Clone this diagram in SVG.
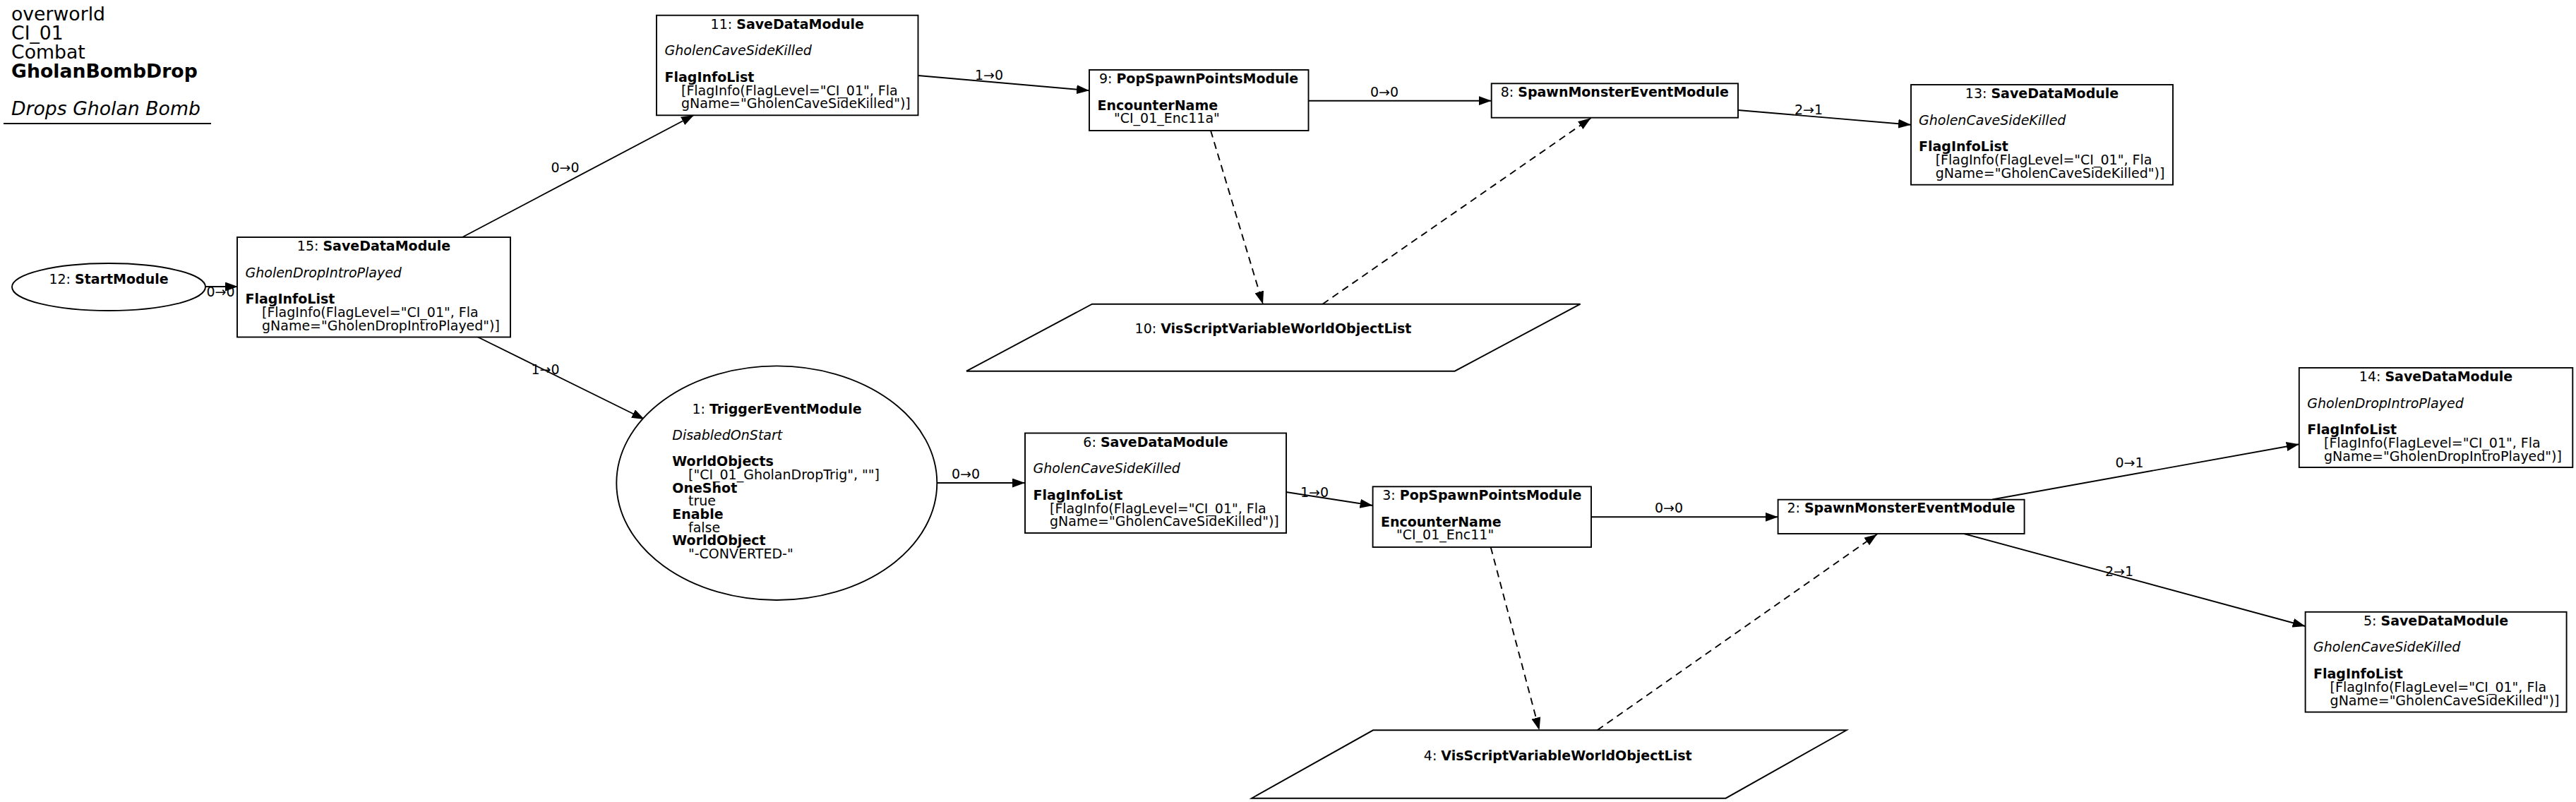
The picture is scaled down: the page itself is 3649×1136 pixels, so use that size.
<svg xmlns="http://www.w3.org/2000/svg" width="3649" height="1136" viewBox="0 0 3649 1136">
<style>
text{font-family:"DejaVu Sans","Liberation Sans",sans-serif;font-size:19px;fill:#000}
.t{font-size:26.7px}
.b{font-weight:bold}
.i{font-style:italic}
.m{text-anchor:middle}
.shape{fill:#fff;stroke:#000;stroke-width:1.9}
.e{fill:none;stroke:#000;stroke-width:1.9;marker-end:url(#arr)}
.d{stroke-dasharray:10,7}
</style>
<defs>
<marker id="arr" viewBox="0 0 18 13" refX="18" refY="6.5" markerWidth="18" markerHeight="13" orient="auto" markerUnits="userSpaceOnUse"><path d="M0,0 L18,6.5 L0,13 z" fill="#000"/></marker>
</defs>
<rect width="3649" height="1136" fill="#fff"/>
<g id="title">
<text class="t" x="16" y="28.5">overworld</text>
<text class="t" x="16" y="55.5">CI_01</text>
<text class="t" x="16" y="82.5">Combat</text>
<text class="t b" x="16" y="109.5">GholanBombDrop</text>
<text class="t i" x="16" y="163">Drops Gholan Bomb</text>
<line x1="5" y1="175" x2="299" y2="175" stroke="#000" stroke-width="1.9"/>
</g>
<g id="connectors">
<line class="e" x1="291" y1="406" x2="337" y2="406"/>
<text class="m" x="312.5" y="420">0→0</text>
<line class="e" x1="653" y1="337" x2="983" y2="163"/>
<text class="m" x="800.5" y="244">0→0</text>
<line class="e" x1="676" y1="477" x2="913" y2="594"/>
<text class="m" x="772.6" y="530">1→0</text>
<line class="e" x1="1300.5" y1="107" x2="1543" y2="128.3"/>
<text class="m" x="1401" y="113">1→0</text>
<line class="e" x1="1853.5" y1="142.7" x2="2112.7" y2="142.7"/>
<text class="m" x="1961" y="136.7">0→0</text>
<line class="e" x1="2462" y1="156" x2="2707" y2="176.7"/>
<text class="m" x="2562" y="161.7">2→1</text>
<line class="e d" x1="1715" y1="185" x2="1789" y2="430.7"/>
<line class="e d" x1="1873.5" y1="430.7" x2="2253.5" y2="167.3"/>
<line class="e" x1="1327" y1="684" x2="1452" y2="684"/>
<text class="m" x="1368" y="678">0→0</text>
<line class="e" x1="1822" y1="697" x2="1944.6" y2="716"/>
<text class="m" x="1862" y="704">1→0</text>
<line class="e" x1="2254" y1="732.3" x2="2518.6" y2="732.3"/>
<text class="m" x="2364" y="725.7">0→0</text>
<line class="e d" x1="2111.7" y1="775" x2="2180.5" y2="1034.3"/>
<line class="e d" x1="2262.6" y1="1034.3" x2="2659" y2="756.7"/>
<line class="e" x1="2822.3" y1="707.5" x2="3256.8" y2="629.3"/>
<text class="m" x="3016.5" y="662">0→1</text>
<line class="e" x1="2782" y1="756" x2="3265.6" y2="887"/>
<text class="m" x="3002" y="815.7">2→1</text>
</g>
<g id="node12">
<ellipse class="shape" cx="154" cy="406.5" rx="137" ry="33.5"/>
<text class="m" x="154" y="401.7">12: <tspan class="b">StartModule</tspan></text>
</g>
<g id="node15">
<rect class="shape" x="336" y="336" width="387" height="141.5"/>
<text class="m" x="529.5" y="355">15: <tspan class="b">SaveDataModule</tspan></text>
<text class="i" x="347.5" y="392.5">GholenDropIntroPlayed</text>
<text class="b" x="347.5" y="430">FlagInfoList</text>
<text x="371" y="449">[FlagInfo(FlagLevel="CI_01", Fla</text>
<text x="371" y="467.7">gName="GholenDropIntroPlayed")]</text>
</g>
<g id="node11">
<rect class="shape" x="930" y="21.7" width="370.5" height="141.6"/>
<text class="m" x="1115.3" y="40.7">11: <tspan class="b">SaveDataModule</tspan></text>
<text class="i" x="941.5" y="78.2">GholenCaveSideKilled</text>
<text class="b" x="941.5" y="115.7">FlagInfoList</text>
<text x="965" y="134.7">[FlagInfo(FlagLevel="CI_01", Fla</text>
<text x="965" y="153.4">gName="GholenCaveSideKilled")]</text>
</g>
<g id="node9">
<rect class="shape" x="1543" y="99" width="310.5" height="86"/>
<text class="m" x="1698" y="118">9: <tspan class="b">PopSpawnPointsModule</tspan></text>
<text class="b" x="1554.5" y="156">EncounterName</text>
<text x="1578" y="174">"CI_01_Enc11a"</text>
</g>
<g id="node8">
<rect class="shape" x="2112.7" y="118.3" width="349.3" height="48.4"/>
<text class="m" x="2287.3" y="136.5">8: <tspan class="b">SpawnMonsterEventModule</tspan></text>
</g>
<g id="node13">
<rect class="shape" x="2707" y="120" width="371" height="141.7"/>
<text class="m" x="2892.5" y="139">13: <tspan class="b">SaveDataModule</tspan></text>
<text class="i" x="2718" y="176.5">GholenCaveSideKilled</text>
<text class="b" x="2718" y="214">FlagInfoList</text>
<text x="2741.7" y="233">[FlagInfo(FlagLevel="CI_01", Fla</text>
<text x="2741.7" y="251.7">gName="GholenCaveSideKilled")]</text>
</g>
<g id="node10">
<polygon class="shape" points="1547,430.7 2238.6,430.7 2060.7,525.7 1369,525.7"/>
<text class="m" x="1803.5" y="471.7">10: <tspan class="b">VisScriptVariableWorldObjectList</tspan></text>
</g>
<g id="node1">
<ellipse class="shape" cx="1100.3" cy="684.2" rx="227" ry="165.8"/>
<text class="m" x="1100.5" y="586">1: <tspan class="b">TriggerEventModule</tspan></text>
<text class="i" x="952.3" y="622.7">DisabledOnStart</text>
<text class="b" x="952.3" y="660">WorldObjects</text>
<text x="975" y="679">["CI_01_GholanDropTrig", ""]</text>
<text class="b" x="952.3" y="697.7">OneShot</text>
<text x="975" y="716.4">true</text>
<text class="b" x="952.3" y="735">Enable</text>
<text x="975" y="753.8">false</text>
<text class="b" x="952.3" y="772.4">WorldObject</text>
<text x="975" y="791">"-CONVERTED-"</text>
</g>
<g id="node6">
<rect class="shape" x="1452" y="613.5" width="370" height="141.5"/>
<text class="m" x="1637" y="632.5">6: <tspan class="b">SaveDataModule</tspan></text>
<text class="i" x="1463.5" y="670">GholenCaveSideKilled</text>
<text class="b" x="1463.5" y="707.5">FlagInfoList</text>
<text x="1487" y="726.5">[FlagInfo(FlagLevel="CI_01", Fla</text>
<text x="1487" y="745.2">gName="GholenCaveSideKilled")]</text>
</g>
<g id="node3">
<rect class="shape" x="1944.6" y="689.3" width="309.4" height="85.7"/>
<text class="m" x="2099.3" y="708.3">3: <tspan class="b">PopSpawnPointsModule</tspan></text>
<text class="b" x="1956" y="746">EncounterName</text>
<text x="1978" y="763.5">"CI_01_Enc11"</text>
</g>
<g id="node2">
<rect class="shape" x="2518.6" y="707.7" width="349" height="48.3"/>
<text class="m" x="2693" y="726">2: <tspan class="b">SpawnMonsterEventModule</tspan></text>
</g>
<g id="node4">
<polygon class="shape" points="1945,1034.3 2615.7,1034.3 2444.6,1130.7 1773,1130.7"/>
<text class="m" x="2206.7" y="1076.7">4: <tspan class="b">VisScriptVariableWorldObjectList</tspan></text>
</g>
<g id="node14">
<rect class="shape" x="3256.8" y="521" width="387.5" height="141"/>
<text class="m" x="3450.5" y="540">14: <tspan class="b">SaveDataModule</tspan></text>
<text class="i" x="3268.3" y="577.5">GholenDropIntroPlayed</text>
<text class="b" x="3268.3" y="615">FlagInfoList</text>
<text x="3292" y="634">[FlagInfo(FlagLevel="CI_01", Fla</text>
<text x="3292" y="652.7">gName="GholenDropIntroPlayed")]</text>
</g>
<g id="node5">
<rect class="shape" x="3265.6" y="866.8" width="370" height="141.8"/>
<text class="m" x="3450.6" y="885.8">5: <tspan class="b">SaveDataModule</tspan></text>
<text class="i" x="3277" y="923.3">GholenCaveSideKilled</text>
<text class="b" x="3277" y="960.8">FlagInfoList</text>
<text x="3300.6" y="979.8">[FlagInfo(FlagLevel="CI_01", Fla</text>
<text x="3300.6" y="998.5">gName="GholenCaveSideKilled")]</text>
</g>
</svg>
